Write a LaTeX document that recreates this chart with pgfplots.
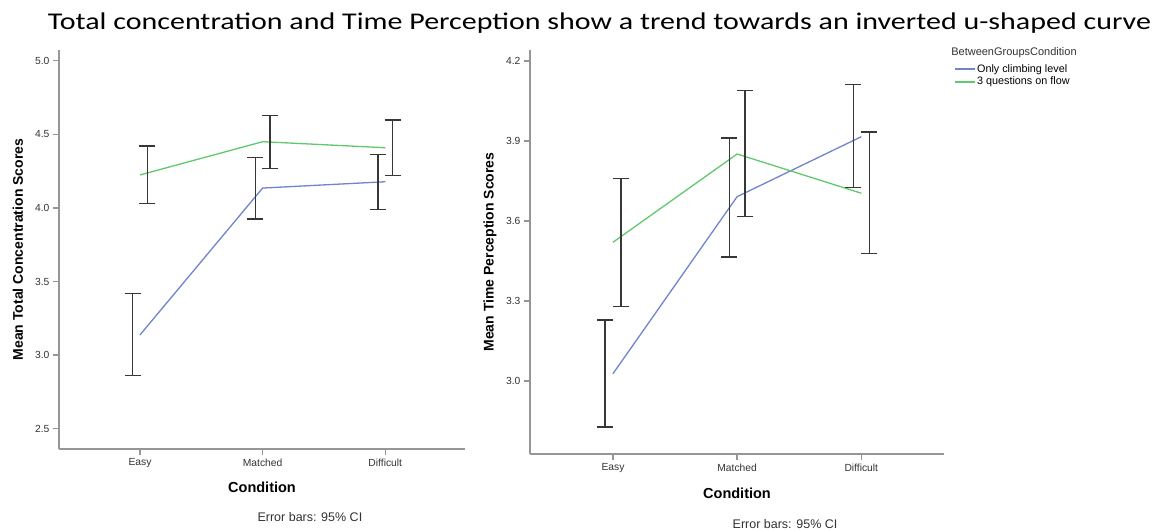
\documentclass[border=0pt]{standalone}
\usepackage{pgfplots}
\pgfplotsset{compat=1.18}
\usepackage{pgfplotstable}
\usepackage{graphicx}
\usepackage{fontspec}
\setmainfont{Liberation Sans}
\newfontfamily\titlefont{Carlito}

\definecolor{climb}{RGB}{112,132,205}
\definecolor{flow}{RGB}{96,200,110}
\definecolor{axisgray}{RGB}{150,150,150}
\definecolor{bargray}{RGB}{55,55,55}
\definecolor{ticktext}{RGB}{50,50,50}

% Means with 95% CI bounds (x: 0 = Easy, 1 = Matched, 2 = Difficult)
\pgfplotstableread{
x m lo hi
0 3.137 2.860 3.417
1 4.135 3.925 4.341
2 4.178 3.990 4.364
}\concClimb
\pgfplotstableread{
x m lo hi
0 4.224 4.031 4.420
1 4.450 4.269 4.629
2 4.409 4.219 4.597
}\concFlow
\pgfplotstableread{
x m lo hi
0 3.027 2.827 3.229
1 3.691 3.465 3.911
2 3.916 3.725 4.111
}\timeClimb
\pgfplotstableread{
x m lo hi
0 3.520 3.279 3.760
1 3.851 3.616 4.089
2 3.704 3.479 3.933
}\timeFlow

\pgfplotsset{
  spss/.style={
    scale only axis,
    axis x line*=bottom, axis y line*=left,
    axis line style={axisgray, line width=1.3pt},
    tick align=outside, major tick length=6pt,
    tick style={axisgray, line width=1.3pt},
    xtick={0,1,2}, xticklabels={Easy,Matched,Difficult},
    tick label style={font=\fontsize{10.3}{12}\selectfont, text=ticktext},
    yticklabel={\pgfmathprintnumber[fixed,fixed zerofill,precision=1]{\tick}},
    /pgf/number format/assume math mode=true,
    xlabel style={font=\bfseries\fontsize{14.5}{17}\selectfont},
    ylabel style={font=\bfseries\fontsize{14}{16}\selectfont},
    clip=false,
  },
  meanline/.style={line width=1.3pt, no marks},
  cibar/.style={draw=none, no marks, forget plot,
    error bars/.cd, y dir=both, y explicit, error mark=|,
    error bar style={draw=bargray, line width=1.3pt},
    error mark options={draw=bargray, line width=1.3pt, mark size=8pt}},
}

\begin{document}
\begin{tikzpicture}
\useasboundingbox (0pt,0pt) rectangle (1162pt,-531pt);

\node[anchor=base, font=\titlefont\fontsize{24}{29}\selectfont, inner sep=0pt] at (599.5pt,-29pt)
  {\scalebox{1.25}[1]{Total concentration and Time Perception show a trend towards an inverted u-shaped curve}};

% Left panel: concentration
\begin{axis}[spss,
  at={(59pt,-449pt)}, anchor=south west,
  width=406pt, height=399pt,
  xmin=-0.66, xmax=2.65, ymin=2.362, ymax=5.073,
  ytick={2.5,3.0,3.5,4.0,4.5,5.0},
  xlabel={Condition},
  xlabel style={at={(axis description cs:0.5,-0.095)}, anchor=center},
  ylabel={Mean Total Concentration Scores},
  ylabel style={at={(axis description cs:-0.101,0.5)}, anchor=center, rotate=0},
]
\addplot[meanline, climb] table[x=x, y=m] {\concClimb};
\addplot[meanline, flow] table[x=x, y=m] {\concFlow};
\addplot[cibar] table[x expr=\thisrow{x}-0.06, y=m,
  y error plus expr=\thisrow{hi}-\thisrow{m},
  y error minus expr=\thisrow{m}-\thisrow{lo}] {\concClimb};
\addplot[cibar] table[x expr=\thisrow{x}+0.06, y=m,
  y error plus expr=\thisrow{hi}-\thisrow{m},
  y error minus expr=\thisrow{m}-\thisrow{lo}] {\concFlow};
\node[font=\fontsize{12.5}{15}\selectfont, text=ticktext] at (axis description cs:0.618,-0.170) {Error bars: 95\% CI};
\end{axis}

% Right panel: time perception
\begin{axis}[spss,
  at={(530pt,-454pt)}, anchor=south west,
  width=414pt, height=404pt,
  xmin=-0.668, xmax=2.666, ymin=2.726, ymax=4.241,
  ytick={3.0,3.3,3.6,3.9,4.2},
  xlabel={Condition},
  xlabel style={at={(axis description cs:0.5,-0.0965)}, anchor=center},
  ylabel={Mean Time Perception Scores},
  ylabel style={at={(axis description cs:-0.0966,0.5)}, anchor=center, rotate=0},
  legend style={at={(rel axis cs:1.024,0.967)}, anchor=north west,
    draw=white, inner sep=0pt, row sep=1.2pt,
    font=\fontsize{10.8}{12}\selectfont,
    nodes={inner sep=1pt}},
  legend cell align=left,
  legend image code/.code={\draw[#1, line width=2pt] (0pt,0pt) -- (20pt,0pt);},
]
\addplot[meanline, climb] table[x=x, y=m] {\timeClimb};
\addplot[meanline, flow] table[x=x, y=m] {\timeFlow};
\addplot[cibar] table[x expr=\thisrow{x}-0.064, y=m,
  y error plus expr=\thisrow{hi}-\thisrow{m},
  y error minus expr=\thisrow{m}-\thisrow{lo}] {\timeClimb};
\addplot[cibar] table[x expr=\thisrow{x}+0.064, y=m,
  y error plus expr=\thisrow{hi}-\thisrow{m},
  y error minus expr=\thisrow{m}-\thisrow{lo}] {\timeFlow};
\addlegendimage{draw=climb}
\addlegendentry{Only climbing level}
\addlegendimage{draw=flow}
\addlegendentry{3 questions on flow}
\node[font=\fontsize{11}{13}\selectfont, text=ticktext] at (rel axis cs:1.169,0.9926) {BetweenGroupsCondition};
\node[font=\fontsize{12.5}{15}\selectfont, text=ticktext] at (axis description cs:0.616,-0.173) {Error bars: 95\% CI};
\end{axis}
\end{tikzpicture}
\end{document}
